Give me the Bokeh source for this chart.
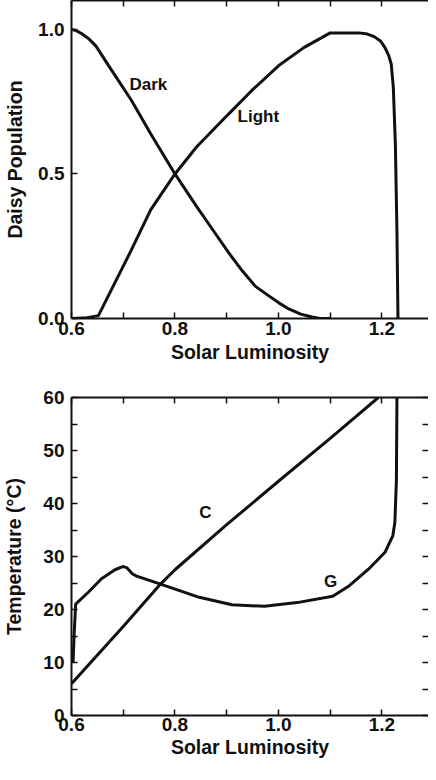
from bokeh.plotting import figure
from bokeh.models import FixedTicker, LinearAxis, Label
from bokeh.layouts import column
from bokeh.embed import file_html
from bokeh.resources import INLINE

# ---------------- data ----------------
dark_x = [0.600, 0.610, 0.620, 0.633, 0.647, 0.672, 0.716, 0.753, 0.800, 0.842,
          0.873, 0.904, 0.930, 0.955, 0.980, 1.000, 1.020, 1.043, 1.065, 1.080, 1.100]
dark_y = [1.000, 0.995, 0.985, 0.968, 0.943, 0.874, 0.754, 0.639, 0.500, 0.387,
          0.307, 0.227, 0.165, 0.112, 0.080, 0.055, 0.033, 0.015, 0.005, 0.000, 0.000]

light_x = [0.600, 0.630, 0.652, 0.684, 0.716, 0.753, 0.800, 0.842, 0.904, 0.948,
           1.000, 1.049, 1.100, 1.156, 1.172, 1.185, 1.197, 1.205, 1.213, 1.218,
           1.222, 1.226, 1.229, 1.231]
light_y = [0.000, 0.003, 0.010, 0.124, 0.238, 0.376, 0.500, 0.594, 0.708, 0.788,
           0.874, 0.937, 0.988, 0.988, 0.984, 0.975, 0.960, 0.940, 0.910, 0.880,
           0.800, 0.600, 0.300, 0.000]

c_x = [0.600, 0.700, 0.772, 0.800, 0.900, 1.000, 1.100, 1.193]
c_y = [6.0, 16.8, 24.8, 27.5, 36.0, 44.2, 52.3, 60.0]

g_x = [0.603, 0.605, 0.608, 0.633, 0.658, 0.684, 0.699, 0.707, 0.718, 0.726,
       0.772, 0.847, 0.910, 0.973, 1.036, 1.105, 1.137, 1.174, 1.206, 1.221,
       1.225, 1.228, 1.229]
g_y = [10.0, 15.0, 21.0, 23.3, 25.8, 27.5, 28.1, 27.9, 26.7, 26.3,
       24.8, 22.3, 20.9, 20.6, 21.3, 22.5, 24.5, 27.6, 30.8, 33.9,
       36.4, 44.5, 60.0]

x_major = [0.6, 0.8, 1.0, 1.2]
x_major_labels = ["0.6", "0.8", "1.0", "1.2"]
x_minor = [0.7, 0.9, 1.1]
pop_ticks = [0.0, 0.5, 1.0]
pop_tick_labels = ["0.0", "0.5", "1.0"]
temp_major = [0, 10, 20, 30, 40, 50, 60]
temp_minor = [5, 15, 25, 35, 45, 55]

x_title = "Solar Luminosity"
pop_title = "Daisy Population"
temp_title = "Temperature (°C)"

top_labels = [("Dark", 0.712, 0.81), ("Light", 0.921, 0.70)]
bottom_labels = [("C", 0.847, 38.3), ("G", 1.088, 25.3)]

FONT = "Liberation Sans"
INK = "#111111"


def style_axis(ax, ticker, show_labels=True, title=None, standoff=6, title_standoff=6):
    ax.ticker = ticker
    ax.axis_line_color = INK
    ax.axis_line_width = 2
    ax.major_tick_line_color = INK
    ax.major_tick_line_width = 1.5
    ax.minor_tick_line_color = INK
    ax.minor_tick_line_width = 1.5
    ax.major_tick_in = 6
    ax.major_tick_out = 0
    ax.minor_tick_in = 6
    ax.minor_tick_out = 0
    if show_labels:
        ax.major_label_text_font = FONT
        ax.major_label_text_font_style = "bold"
        ax.major_label_text_font_size = "19px"
        ax.major_label_text_color = INK
        ax.major_label_standoff = standoff
    else:
        ax.major_label_text_color = None
        ax.major_label_standoff = 0
    if title:
        ax.axis_label = title
        ax.axis_label_text_font = FONT
        ax.axis_label_text_font_style = "bold"
        ax.axis_label_text_font_size = "19.5px"
        ax.axis_label_text_color = INK
        ax.axis_label_standoff = title_standoff


def make_fig(height, yr, left, top, bottom):
    p = figure(width=428, height=height, x_range=(0.6, 1.29), y_range=yr,
               output_backend="svg", toolbar_location=None)
    p.min_border = 0
    p.min_border_left = left
    p.min_border_top = top
    p.min_border_bottom = bottom
    p.min_border_right = 0
    p.outline_line_color = None
    p.xgrid.visible = False
    p.ygrid.visible = False
    p.background_fill_color = "white"
    p.border_fill_color = "white"
    return p


def add_label(p, txt, lx, ly):
    p.add_layout(Label(x=lx, y=ly, text=txt, text_font=FONT, text_font_size="17px",
                       text_font_style="bold", text_color=INK,
                       text_baseline="middle", text_align="left"))


x_overrides = dict(zip(x_major, x_major_labels))

# ---------------- top: daisy population ----------------
p1 = make_fig(385, (0, 1.1), 64, 0, 67)
style_axis(p1.xaxis[0], FixedTicker(ticks=x_major, minor_ticks=x_minor), title=x_title,
           standoff=3, title_standoff=3)
p1.xaxis[0].major_label_overrides = x_overrides
style_axis(p1.yaxis[0], FixedTicker(ticks=pop_ticks), title=pop_title,
           standoff=7, title_standoff=9)
p1.yaxis[0].major_label_overrides = dict(zip(pop_ticks, pop_tick_labels))
top_ax = LinearAxis()
style_axis(top_ax, FixedTicker(ticks=x_major, minor_ticks=x_minor), show_labels=False)
p1.add_layout(top_ax, "above")

p1.line(dark_x, dark_y, line_color=INK, line_width=3)
p1.line(light_x, light_y, line_color=INK, line_width=3)
for txt, lx, ly in top_labels:
    add_label(p1, txt, lx, ly)

# ---------------- bottom: temperature ----------------
p2 = make_fig(379, (0, 60), 61, 12, 49)
style_axis(p2.xaxis[0], FixedTicker(ticks=x_major, minor_ticks=x_minor), title=x_title,
           standoff=2, title_standoff=2)
p2.xaxis[0].major_label_overrides = x_overrides
style_axis(p2.yaxis[0], FixedTicker(ticks=temp_major, minor_ticks=temp_minor),
           title=temp_title, standoff=7, title_standoff=15)
top_ax2 = LinearAxis()
style_axis(top_ax2, FixedTicker(ticks=x_major, minor_ticks=x_minor), show_labels=False)
p2.add_layout(top_ax2, "above")
right_ax2 = LinearAxis()
style_axis(right_ax2, FixedTicker(ticks=temp_major, minor_ticks=temp_minor), show_labels=False)
right_ax2.axis_line_color = None
p2.add_layout(right_ax2, "right")

p2.line(c_x, c_y, line_color=INK, line_width=3)
p2.line(g_x, g_y, line_color=INK, line_width=3)
for txt, lx, ly in bottom_labels:
    add_label(p2, txt, lx, ly)

layout = column(p1, p2, spacing=0)
open("out.html", "w").write(file_html(layout, INLINE))
